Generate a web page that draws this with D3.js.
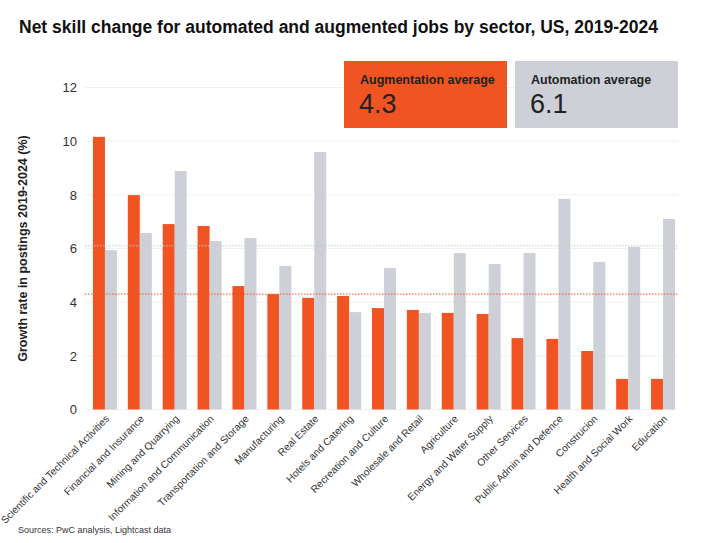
<!DOCTYPE html>
<html>
<head>
<meta charset="utf-8">
<script src="https://cdn.jsdelivr.net/npm/d3@7"></script>
<style>
  html, body { margin: 0; padding: 0; background: #fff; }
  svg { display: block; font-family: "Liberation Sans", Arial, Helvetica, sans-serif; }
</style>
</head>
<body>
<svg id="chart" width="720" height="543"></svg>
<script>
const categories = [
  "Scientific and Technical Activities", "Financial and Insurance", "Mining and Quarrying",
  "Information and Communication", "Transportation and Storage", "Manufacturing",
  "Real Estate", "Hotels and Catering", "Recreation and Culture", "Wholesale and Retail",
  "Agriculture", "Energy and Water Supply", "Other Services", "Public Admin and Defence",
  "Construcion", "Health and Social Work", "Education"
];
const augmentation = [10.16, 7.99, 6.91, 6.84, 4.60, 4.30, 4.16, 4.23, 3.78, 3.71, 3.60, 3.56, 2.66, 2.63, 2.18, 1.14, 1.14];
const automation   = [5.94, 6.58, 8.89, 6.28, 6.39, 5.35, 9.60, 3.63, 5.27, 3.60, 5.83, 5.42, 5.83, 7.85, 5.50, 6.06, 7.10];
const yTicks = [0, 2, 4, 6, 8, 10, 12];
const averages = [{ label: "Augmentation average", value: 4.3 }, { label: "Automation average", value: 6.1 }];
const seriesNames = ["Augmentation", "Automation"];

const colors = ["#f05423", "#cdd1d7"];
const svg = d3.select("#chart");

const plot = { left: 85, right: 678, top: 87.5, bottom: 409.5 };

const y = d3.scaleLinear().domain([0, 12]).range([plot.bottom, plot.top]);
const x = d3.scaleBand().domain(categories).range([87.5, 680.5]).paddingInner(0).paddingOuter(0);
const groupW = 24;
const x1 = d3.scaleBand().domain(seriesNames).range([0, groupW]);

// title
svg.append("text").attr("x", 19).attr("y", 33)
  .attr("font-size", 17.5).attr("font-weight", "bold").attr("fill", "#111")
  .text("Net skill change for automated and augmented jobs by sector, US, 2019-2024");

// gridlines
svg.append("g").selectAll("line").data(yTicks).join("line")
  .attr("x1", plot.left).attr("x2", plot.right)
  .attr("y1", d => y(d)).attr("y2", d => y(d))
  .attr("stroke", "#f1f1f1").attr("stroke-width", 1);

// y axis
const yAxis = svg.append("g").attr("transform", `translate(${plot.left - 8},0)`)
  .call(d3.axisLeft(y).tickValues(yTicks).tickSize(0).tickPadding(0));
yAxis.select(".domain").remove();
yAxis.selectAll("text").attr("font-size", 13).attr("fill", "#333")
  .attr("font-family", "Liberation Sans, Arial, sans-serif");

svg.append("text")
  .attr("transform", `translate(27,${(plot.top + plot.bottom) / 2}) rotate(-90)`)
  .attr("text-anchor", "middle").attr("font-size", 12.5).attr("font-weight", "bold").attr("fill", "#222")
  .text("Growth rate in postings 2019-2024 (%)");

// bars
const groups = svg.append("g").selectAll("g").data(categories).join("g")
  .attr("transform", d => `translate(${x(d) + (x.bandwidth() - groupW) / 2},0)`);
groups.selectAll("rect")
  .data((d, i) => [{ s: seriesNames[0], v: augmentation[i] }, { s: seriesNames[1], v: automation[i] }])
  .join("rect")
  .attr("x", d => x1(d.s)).attr("width", x1.bandwidth())
  .attr("y", d => y(d.v)).attr("height", d => y(0) - y(d.v))
  .attr("fill", (d, i) => colors[i]);

// average lines
svg.append("g").selectAll("line").data(averages).join("line")
  .attr("x1", plot.left).attr("x2", plot.right)
  .attr("y1", d => y(d.value)).attr("y2", d => y(d.value))
  .attr("stroke", (d, i) => i === 0 ? "#f05423" : "#c4c8cd")
  .attr("stroke-width", 1).attr("stroke-dasharray", "1.5,1.5");

// x labels
const xAxis = svg.append("g").attr("transform", `translate(0,${plot.bottom})`)
  .call(d3.axisBottom(x).tickSize(0).tickPadding(0));
xAxis.select(".domain").remove();
xAxis.selectAll(".tick text")
  .attr("font-size", 10.2).attr("fill", "#333")
  .attr("font-family", "Liberation Sans, Arial, sans-serif")
  .attr("text-anchor", "end")
  .attr("dy", null)
  .attr("transform", "translate(5,10) rotate(-45)");

// legend boxes
const boxX = [344, 515];
const boxW = 163;
const leg = svg.append("g").selectAll("g").data(averages).join("g")
  .attr("transform", (d, i) => `translate(${boxX[i]},61)`);
leg.append("rect").attr("width", boxW).attr("height", 67).attr("fill", (d, i) => colors[i]);
leg.append("text").attr("x", 16).attr("y", 22.5)
  .attr("font-size", 12.5).attr("font-weight", "bold").attr("fill", "#222")
  .text(d => d.label);
leg.append("text").attr("x", 15).attr("y", 51.5)
  .attr("font-size", 27).attr("fill", "#222")
  .text(d => d.value.toFixed(1));

// source
svg.append("text").attr("x", 18).attr("y", 533)
  .attr("font-size", 9).attr("fill", "#333")
  .text("Sources: PwC analysis, Lightcast data");
</script>
</body>
</html>
